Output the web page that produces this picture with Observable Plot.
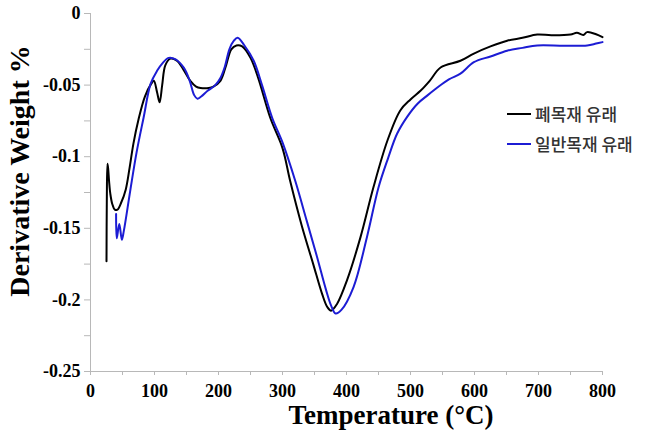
<!DOCTYPE html>
<html>
<head>
<meta charset="utf-8">
<script src="https://cdn.jsdelivr.net/npm/d3@7"></script>
<script src="https://cdn.jsdelivr.net/npm/@observablehq/plot@0.6"></script>
<style>
  html, body { margin: 0; padding: 0; background: #fff; }
  #wrap { position: relative; width: 669px; height: 437px; }
  .legend { position: absolute; left: 507px; top: 99px; font-family: "Noto Sans CJK KR", sans-serif; font-size: 17px; font-weight: 500; color: #333; line-height: 30px; }
  .legend .item { display: flex; align-items: center; }
  .legend .sw { display: inline-block; width: 24px; height: 2px; margin-right: 4px; }
</style>
</head>
<body>
<div id="wrap"></div>
<script>
const seriesNames = ["폐목재 유래", "일반목재 유래"];
const seriesColors = ["#000000", "#1c1cd4"];

// 폐목재 유래 (black)
const wasteTemp = [25,25.5,26.5,27.5,29,31,34,38,42,48,55,61,67,75,85,95,99,104,108,112,117,125,135,145,156,165,172,185,192,203,212,220,228,237,250,262,281,300,312,330,348,362,370,376,385,401,422,442,464,484,500,516,530,547,578,599,625,651,675,698,720,750,760,770,776,790,800];
const wasteDW = [-0.173,-0.13,-0.105,-0.108,-0.117,-0.126,-0.133,-0.137,-0.137,-0.132,-0.123,-0.108,-0.091,-0.074,-0.058,-0.049,-0.047,-0.055,-0.062,-0.05,-0.036,-0.0315,-0.033,-0.039,-0.047,-0.051,-0.052,-0.052,-0.051,-0.047,-0.036,-0.025,-0.0223,-0.023,-0.031,-0.045,-0.073,-0.094,-0.117,-0.148,-0.175,-0.196,-0.205,-0.2075,-0.203,-0.186,-0.156,-0.1215,-0.0887,-0.0677,-0.06,-0.0538,-0.047,-0.0377,-0.033,-0.028,-0.023,-0.019,-0.017,-0.0147,-0.0152,-0.0147,-0.0135,-0.015,-0.013,-0.0145,-0.0165];

// 일반목재 유래 (blue)
const woodTemp = [40,41,45,49,52,62,72,83,94,104,112,122,133,146,155,162,167,173,183,195,203,210,217,224,230,240,255,268,284,300,320,338,354,368,376,383,392,411,432,450,465,479,495,511,527,542,560,578,599,625,651,675,698,740,776,790,800];
const woodDW = [-0.140,-0.157,-0.147,-0.158,-0.152,-0.124,-0.097,-0.0726,-0.049,-0.040,-0.035,-0.031,-0.032,-0.038,-0.047,-0.057,-0.0595,-0.058,-0.054,-0.05,-0.045,-0.037,-0.025,-0.019,-0.017,-0.022,-0.033,-0.05,-0.073,-0.09,-0.117,-0.145,-0.170,-0.193,-0.204,-0.2095,-0.207,-0.191,-0.156,-0.1215,-0.101,-0.084,-0.072,-0.063,-0.057,-0.0517,-0.046,-0.042,-0.034,-0.03,-0.026,-0.024,-0.0223,-0.0225,-0.0223,-0.021,-0.020];

const xTicks = [0,50,100,150,200,250,300,350,400,450,500,550,600,650,700,750,800];
const xLabels = [0,100,200,300,400,500,600,700,800];
const yTicks = [0,-0.025,-0.05,-0.075,-0.1,-0.125,-0.15,-0.175,-0.2,-0.225,-0.25];
const yLabels = ["0","-0.05","-0.1","-0.15","-0.2","-0.25"];

const data = [
  ...wasteTemp.map((t, i) => ({T: t, v: wasteDW[i], s: seriesNames[0]})),
  ...woodTemp.map((t, i) => ({T: t, v: woodDW[i], s: seriesNames[1]}))
];

const axisColor = "#b8b8b8";
const chart = Plot.plot({
  width: 669,
  height: 437,
  marginLeft: 90,
  marginRight: 67,
  marginTop: 13,
  marginBottom: 66,
  style: {fontFamily: "'Liberation Serif', serif", fontWeight: "bold", background: "#fff"},
  x: {domain: [0, 800]},
  y: {domain: [-0.25, 0]},
  color: {domain: seriesNames, range: seriesColors},
  marks: [
    Plot.axisX({ticks: xTicks, tickSize: 4, tickPadding: 9, stroke: axisColor, fill: "#000", fontSize: 18,
      tickFormat: d => xLabels.includes(d) ? String(d) : "", label: null}),
    Plot.axisY({ticks: yTicks, tickSize: 6, tickPadding: 4, stroke: axisColor, fill: "#000", fontSize: 18,
      tickFormat: d => { const s = String(+d.toFixed(3)); return yLabels.includes(s) ? s : ""; }, label: null}),
    Plot.ruleX([0], {stroke: axisColor}),
    Plot.ruleY([-0.25], {stroke: axisColor}),
    Plot.line(data, {x: "T", y: "v", z: "s", stroke: "s", strokeWidth: 2, curve: "catmull-rom"})
  ]
});

const svg = d3.select(chart);
svg.append("text")
  .attr("x", 391).attr("y", 424)
  .attr("text-anchor", "middle")
  .attr("font-family", "'Liberation Serif', serif")
  .attr("font-weight", "bold").attr("font-size", 27)
  .text("Temperature (°C)");
svg.append("text")
  .attr("transform", "translate(29,171) rotate(-90)")
  .attr("text-anchor", "middle")
  .attr("font-family", "'Liberation Serif', serif")
  .attr("font-weight", "bold").attr("font-size", 28)
  .text("Derivative Weight %");

const wrap = document.getElementById("wrap");
wrap.appendChild(chart);
const legend = document.createElement("div");
legend.className = "legend";
seriesNames.forEach((n, i) => {
  const item = document.createElement("div");
  item.className = "item";
  const sw = document.createElement("span");
  sw.className = "sw";
  sw.style.background = seriesColors[i];
  item.appendChild(sw);
  const t = document.createElement("span");
  t.textContent = n;
  item.appendChild(t);
  legend.appendChild(item);
});
wrap.appendChild(legend);
</script>
</body>
</html>
